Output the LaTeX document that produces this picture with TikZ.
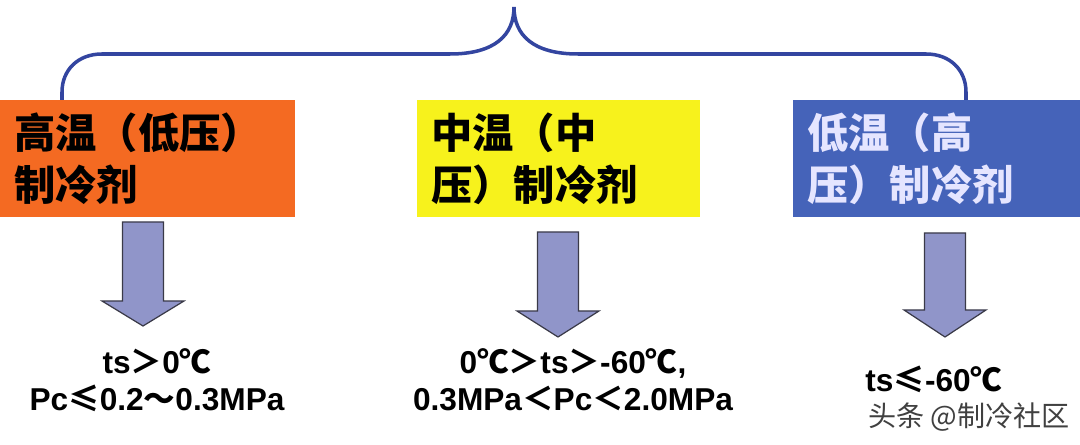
\documentclass[tikz,border=0pt]{standalone}
\usepackage{fontspec}
\setmainfont{Liberation Sans}
\newfontfamily\cjk{Noto Sans CJK SC}
\usetikzlibrary{positioning}
\definecolor{hotorange}{HTML}{F46A22}
\definecolor{midyellow}{HTML}{F7F21C}
\definecolor{lowblue}{HTML}{4563B9}
\definecolor{bracecol}{HTML}{3345A0}
\definecolor{arrowfill}{HTML}{9095C9}
\definecolor{arrowline}{HTML}{3A3A48}
\tikzset{
    tempbox/.style = {rectangle, anchor=north west, minimum height=2.34cm, inner xsep=0.28cm, align=left, font=\cjk\bfseries\fontsize{23.5}{30}\selectfont},
    hotbox/.style = {tempbox, fill=hotorange, minimum width=5.9cm, text width=5.34cm},
    midbox/.style = {tempbox, fill=midyellow, minimum width=5.66cm, text width=5.1cm},
    lowbox/.style = {tempbox, fill=lowblue, minimum width=5.74cm, text width=5.18cm, text=white!90!blue},
    downarrow/.style = {draw=arrowline, fill=arrowfill, line width=0.7pt, line join=miter},
    braceline/.style = {draw=bracecol, line width=2pt},
    cond/.style = {align=center, font=\bfseries\fontsize{18}{21}\selectfont},
    wmarktext/.style = {anchor=west, text=black!75, font=\cjk\fontsize{16}{18}\selectfont}
}
\begin{document}
\begin{tikzpicture}[x=0.02cm, y=-0.02cm]
  \useasboundingbox (0,0) rectangle (1080,445);

  % the three classes
  \node[hotbox] (hot) at (0,100) {高温（低压）\\制冷剂};
  \node[midbox] (mid) at (417,100) {中温（中\\压）制冷剂};
  \node[lowbox] (low) at (793,100) {低温（高\\压）制冷剂};

  % brace over the boxes
  \draw[braceline] (62,100) -- (62,92) .. controls (62,70) and (78,54) .. (102,54) -- (450,54)
    .. controls (495,54) and (514,35) .. (514,7)
    .. controls (514,35) and (533,54) .. (578,54) -- (926,54)
    .. controls (950,54) and (966,70) .. (966,92) -- (966,100);

  % block arrows
  \foreach \cx/\top/\hb/\tip in {143/222/301/326, 558/232/311/337, 945/233/310/337}
    \draw[downarrow] (\cx-20.5,\top) -- (\cx+20.5,\top) -- (\cx+20.5,\hb) -- (\cx+41,\hb)
      -- (\cx,\tip) -- (\cx-41,\hb) -- (\cx-20.5,\hb) -- cycle;

  % conditions
  \node[cond] (hotcond) at (157,380) {ts{\cjk ＞}0{\cjk ℃}\\Pc{\cjk ≤}0.2{\cjk ～}0.3MPa};
  \node[cond] (midcond) at (573,380) {0{\cjk ℃＞}ts{\cjk ＞}-60{\cjk ℃}, \\0.3MPa{\cjk ＜}Pc{\cjk ＜}2.0MPa};
  \node[cond, anchor=west, inner xsep=0pt] (lowcond) at (865,379) {ts{\cjk ≤}-60{\cjk ℃}};
  \node[wmarktext, inner xsep=0pt] (wmark) at (868,417) {头条 @制冷社区};
\end{tikzpicture}
\end{document}
